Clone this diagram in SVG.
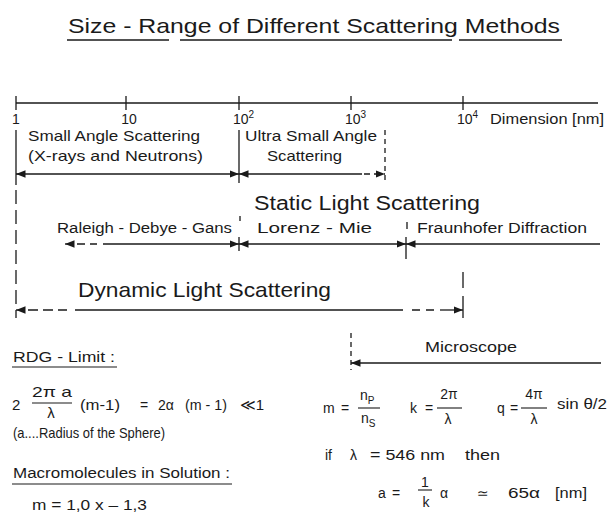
<svg xmlns="http://www.w3.org/2000/svg" width="610" height="514" viewBox="0 0 610 514">
<defs>
<marker id="ah" markerUnits="userSpaceOnUse" markerWidth="11" markerHeight="9" refX="9.5" refY="4.5" orient="auto-start-reverse"><path d="M0,0.8 L9.5,4.5 L0,8.2 z" fill="#1a1a1a"/></marker>
<style>
text{font-family:"Liberation Sans","DejaVu Sans",sans-serif;fill:#1a1a1a}
.s13{font-size:13px}
.s14{font-size:14px}
.s15{font-size:15px}
.s20{font-size:20px}
.ln{stroke:#1a1a1a;stroke-width:1.3;fill:none}
.th{stroke:#1a1a1a;stroke-width:1.1;fill:none}
.ar{marker-start:url(#ah);marker-end:url(#ah)}
.as{marker-start:url(#ah)}
.ae{marker-end:url(#ah)}
.mid{text-anchor:middle}
</style>
</defs>
<rect width="610" height="514" fill="#fff"/>

<g id="title">
<text x="68" y="33" style="font-size:21px" textLength="492" lengthAdjust="spacingAndGlyphs">Size - Range  of  Different  Scattering  Methods</text>
<path class="ln" d="M67,40 H169 M180,40 H452 M459,40 H562"/>
</g>

<g id="axis-labels" class="s14">
<text x="16" y="124" class="mid">1</text>
<text x="129" y="124" class="mid">10</text>
<text x="233" y="124">10<tspan dy="-6" font-size="10">2</tspan></text>
<text x="345" y="124">10<tspan dy="-6" font-size="10">3</tspan></text>
<text x="457" y="124">10<tspan dy="-6" font-size="10">4</tspan></text>
<text x="490" y="124" textLength="114" lengthAdjust="spacingAndGlyphs">Dimension  [nm]</text>
</g>

<g id="small-angle" class="s15">
<text x="28" y="141" textLength="172" lengthAdjust="spacingAndGlyphs">Small Angle Scattering</text>
<text x="28" y="161" textLength="175" lengthAdjust="spacingAndGlyphs">(X-rays  and  Neutrons)</text>
</g>

<g id="ultra-small-angle" class="s15">
<text x="245" y="141" textLength="132" lengthAdjust="spacingAndGlyphs">Ultra Small Angle</text>
<text x="267" y="161" textLength="75" lengthAdjust="spacingAndGlyphs">Scattering</text>
</g>

<g id="static-light">
<text x="254" y="210" class="s20" textLength="226" lengthAdjust="spacingAndGlyphs">Static Light Scattering</text>
</g>

<g id="rdg" class="s14">
<text x="57" y="233" textLength="175" lengthAdjust="spacingAndGlyphs">Raleigh - Debye - Gans</text>
</g>
<g id="lorenz-mie" class="s14">
<text x="257" y="233" textLength="115" lengthAdjust="spacingAndGlyphs">Lorenz  -  Mie</text>
</g>
<g id="fraunhofer" class="s14">
<text x="417" y="233" textLength="170" lengthAdjust="spacingAndGlyphs">Fraunhofer Diffraction</text>
</g>

<g id="dynamic-light">
<text x="78" y="297" style="font-size:21px" textLength="253" lengthAdjust="spacingAndGlyphs">Dynamic Light Scattering</text>
</g>

<g id="microscope">
<text x="425" y="352" class="s15" textLength="92" lengthAdjust="spacingAndGlyphs">Microscope</text>
</g>

<g id="connectors">
<path class="ln" d="M16,103 H598"/>
<path class="ln" d="M16,96 V110 M126,96 V110 M239,96 V110 M351,96 V110 M463,96 V110"/>
<path class="ln" d="M16,130 V185"/>
<path class="ln" d="M16,190 V318" stroke-dasharray="14,6"/>
<path class="ln" d="M239,130 V183"/>
<path class="ln" d="M385,130 V180" stroke-dasharray="5,4"/>
<path class="ln ar" d="M16,174 H239"/>
<path class="ln as" d="M239,174 H362"/>
<path class="ln ae" d="M364,174 H385" stroke-dasharray="6,4"/>
<path class="ln as" d="M65,244 H72"/>
<path class="ln" d="M77,244 H85 M90,244 H97"/>
<path class="ln ae" d="M103,244 H239"/>
<path class="ln ar" d="M239,244 H406"/>
<path class="ln as" d="M406,244 H600"/>
<path class="ln" d="M239,237 V251 M240,216 V221 M406,237 V259 M407,222 V229"/>
<path class="ln as" d="M16,310 H22"/>
<path class="ln" d="M28,310 H38 M43,310 H53 M58,310 H67 M75,310 H403 M412,310 H420 M426,310 H434"/>
<path class="ln ae" d="M440,310 H463"/>
<path class="ln" d="M463,272 V288 M463,296 V318"/>
<path class="ln" d="M351,333 V370" stroke-dasharray="5,4"/>
<path class="ln as" d="M351,363 H601"/>
</g>

<g id="rdg-limit" class="s14">
<text x="13" y="362" textLength="102" lengthAdjust="spacingAndGlyphs">RDG - Limit :</text>
<path class="th" d="M12,367 H117"/>
<text x="12" y="410" class="s15">2</text>
<text x="32" y="397" class="s15" textLength="40" lengthAdjust="spacingAndGlyphs">2π  a</text>
<path class="th" d="M32,403 H72"/>
<text x="51" y="418" class="mid s15">λ</text>
<text x="80" y="410" textLength="40" lengthAdjust="spacingAndGlyphs">(m-1)</text>
<text x="140" y="410">=</text>
<text x="158" y="410">2α</text>
<text x="185" y="410" textLength="42" lengthAdjust="spacingAndGlyphs">(m - 1)</text>
<text x="240" y="410" class="s15">≪1</text>
<text x="13" y="438" class="s15" textLength="152" lengthAdjust="spacingAndGlyphs">(a....Radius of the Sphere)</text>
</g>

<g id="macromolecules" class="s14">
<text x="13" y="478" textLength="217" lengthAdjust="spacingAndGlyphs">Macromolecules in Solution :</text>
<path class="th" d="M12,484 H232"/>
<text x="32" y="510" textLength="115" lengthAdjust="spacingAndGlyphs">m = 1,0 x – 1,3</text>
</g>

<g id="definitions" class="s14">
<text x="323" y="413">m</text>
<text x="341" y="413">=</text>
<text x="360" y="400">n<tspan dy="4" font-size="10">P</tspan></text>
<path class="th" d="M358,408 H380"/>
<text x="361" y="423">n<tspan dy="4" font-size="10">S</tspan></text>
<text x="410" y="413">k</text>
<text x="425" y="413">=</text>
<text x="449" y="399" class="mid">2π</text>
<path class="th" d="M437,408 H462"/>
<text x="448" y="424" class="mid">λ</text>
<text x="497" y="413">q</text>
<text x="510" y="413">=</text>
<text x="534" y="399" class="mid">4π</text>
<path class="th" d="M521,408 H547"/>
<text x="534" y="424" class="mid">λ</text>
<text x="557" y="409" textLength="50" lengthAdjust="spacingAndGlyphs">sin θ/2</text>
</g>

<g id="wavelength" class="s14">
<text x="325" y="460">if</text>
<text x="350" y="460">λ</text>
<text x="370" y="460" textLength="75" lengthAdjust="spacingAndGlyphs">= 546 nm</text>
<text x="465" y="460" textLength="35" lengthAdjust="spacingAndGlyphs">then</text>
<text x="378" y="498">a</text>
<text x="392" y="498">=</text>
<text x="425" y="487" class="mid">1</text>
<path class="th" d="M418,490 H432"/>
<text x="426" y="507" class="mid">k</text>
<text x="440" y="498">α</text>
<text x="477" y="498">≃</text>
<text x="508" y="498" textLength="32" lengthAdjust="spacingAndGlyphs">65α</text>
<text x="555" y="498" textLength="32" lengthAdjust="spacingAndGlyphs">[nm]</text>
</g>
</svg>
